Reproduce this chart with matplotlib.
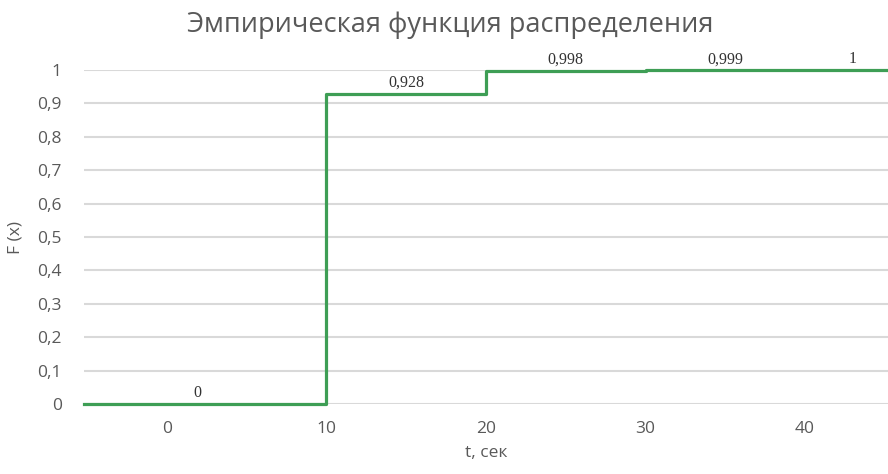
import matplotlib
matplotlib.use("Agg")
import matplotlib.pyplot as plt

# ступенчатая эмпирическая функция
x_steps = [-5.2, 10, 20, 30, 40, 45.2]
f_values = [0, 0.928, 0.998, 0.999, 1, 1]
label_x = [1.9, 15, 25, 35, 43]
label_text = ["0", "0,928", "0,998", "0,999", "1"]
x_ticks = [0, 10, 20, 30, 40]
y_ticks = [0, 0.1, 0.2, 0.3, 0.4, 0.5, 0.6, 0.7, 0.8, 0.9, 1]

grey = "#595959"
green = "#3E9E55"

plt.rcParams['font.family'] = ['Open Sans', 'DejaVu Sans']

fig = plt.figure(figsize=(8.88, 4.74), dpi=100)
ax = fig.add_axes([84 / 888, 1 - 404 / 474, 1 - 84 / 888, (404 - 70) / 474])

ax.step(x_steps, f_values, where='post', color=green, linewidth=2.3, clip_on=False, zorder=3)

for xv, yv, txt in zip(label_x, f_values[:-1], label_text):
    ax.annotate(txt, (xv, yv), xytext=(0, 8), textcoords='offset points',
                ha='center', va='center', fontsize=11.5, family='Liberation Serif', color='#333333')

ax.set_xlim(-5.2, 45.2)
ax.set_ylim(0, 1)
ax.set_xticks(x_ticks)
ax.set_yticks(y_ticks)
ax.set_yticklabels([("%g" % v).replace('.', ',') for v in y_ticks])
ax.tick_params(length=0, labelsize=12.5, colors=grey, pad=16)
ax.tick_params(axis='x', pad=12)
ax.grid(axis='y', color='#d9d9d9', linewidth=1.5)
ax.set_axisbelow(True)
for s in ax.spines.values():
    s.set_visible(False)

# заголовок по центру всей картинки, как в Excel
fig.text(450 / 888, 1 - 25 / 474, "Эмпирическая функция распределения",
         fontsize=19.5, color=grey, ha='center', va='center')
ax.set_xlabel("t, сек", fontsize=12.5, color=grey, labelpad=6)
ax.set_ylabel("F (x)", fontsize=12.5, color=grey, labelpad=10)

fig.savefig("out.png", dpi=100)
